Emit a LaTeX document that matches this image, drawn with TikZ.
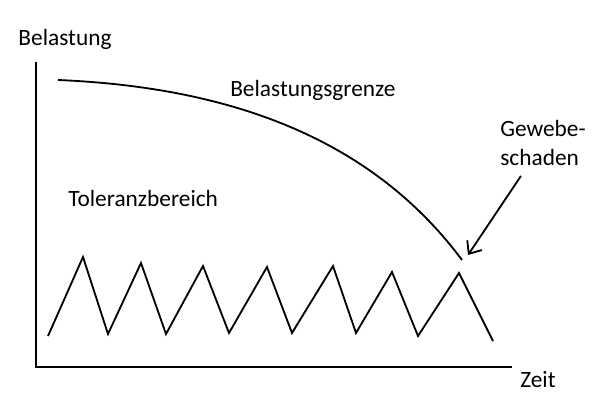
\documentclass[tikz,border=0pt]{standalone}
\usepackage{fontspec}
\setmainfont{Carlito}
\usetikzlibrary{arrows.meta,positioning}

\begin{document}
\begin{tikzpicture}[x=0.025cm, y=-0.025cm, >={Straight Barb[length=2.6mm,width=4.4mm]},
	   black, line join=miter,
	   every node/.style={font=\fontsize{16.6}{20.6}\selectfont, inner sep=0pt},
	   axis/.style={line width=1.5pt},
	   load/.style={line width=1.3pt}]
	\useasboundingbox (0,0) rectangle (600,400);
	%% Axes
	\coordinate (origin) at (36,367);
	\coordinate (ytop) at (36,62);
	\coordinate (xend) at (512,367);
	\draw[axis] (ytop) -- (origin) -- (xend);
	\node [anchor=base] (ylabel) at (65,46) {Belastung};
	\node [anchor=base west] (xlabel) at (520,388) {Zeit};

	%% Labels
	\node [anchor=base west] (limit) at (230,97) {Belastungsgrenze};
	\node [anchor=base west] (tolerance) at (68,207) {Toleranzbereich};
	\node [align=left] (damage) at (543,143) {Gewebe-\\schaden};

	%% Load limit and load curve
	\draw[load] (58,80) .. controls (250,88) and (380,150) .. (462,260);
	\draw[load] (48,336) -- (83,257) -- (108,334) -- (141,263) -- (166,334) -- (203,266)
	            -- (229,333) -- (267,267) -- (292,333) -- (333,266) -- (356,333)
	            -- (392,272) -- (418,336) -- (459,273) -- (493,341);

	%% Arrow to the damage point
	\coordinate (tip) at (468,255);
	\draw[->, load, shorten <=0.3cm] (damage) -- (tip);
\end{tikzpicture}
\end{document}
